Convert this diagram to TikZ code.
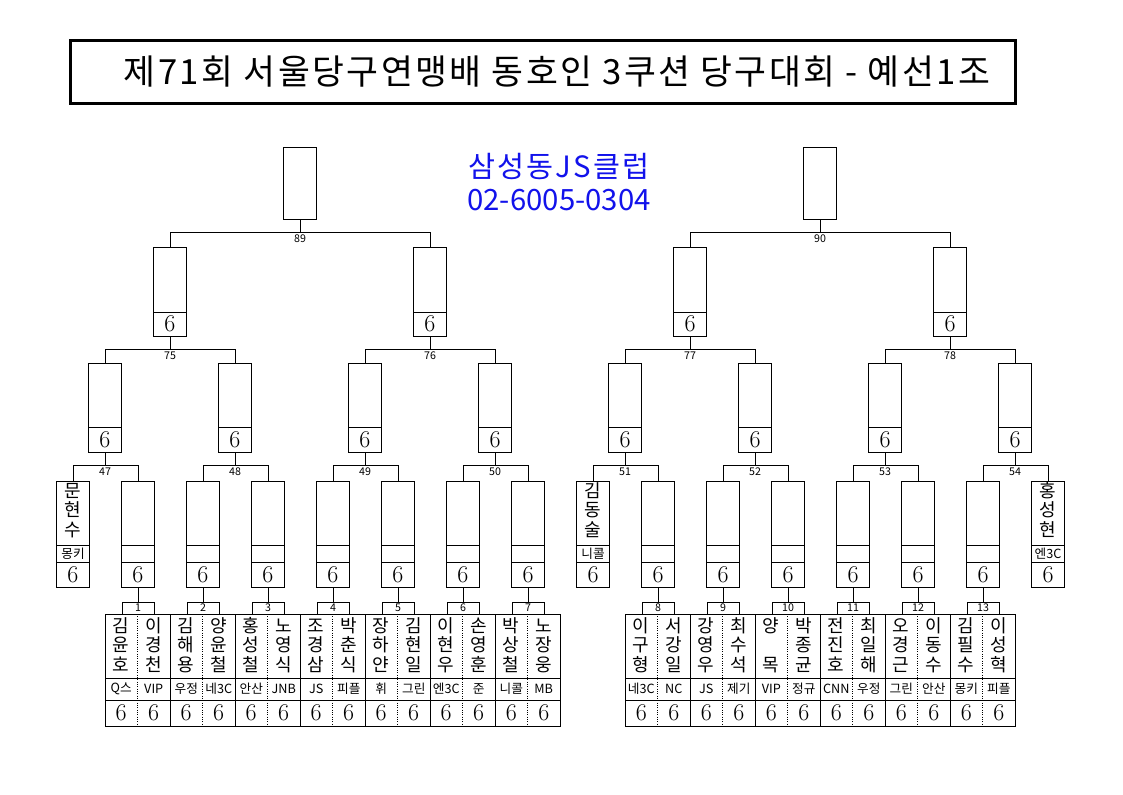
\documentclass[tikz,border=0pt]{standalone}
\usepackage{fontspec}
\setmainfont{Noto Sans CJK KR}
\newfontfamily\spacedfont[LetterSpace=7]{Noto Sans CJK KR}
\newfontfamily\thinfont{Latin Modern Roman}
\usetikzlibrary{positioning}
\definecolor{clubblue}{RGB}{18,18,235}
\newcommand{\pix}{0.75pt}
\newcommand{\namefont}{\fontsize{13.5}{14.6}\selectfont}
\newcommand{\clubfont}{\fontsize{9.5}{10}\selectfont}
\newcommand{\scorefont}{\thinfont\fontsize{18}{18}\selectfont}
\newcommand{\numfont}{\fontsize{8}{8}\selectfont}
\newcommand{\threechars}[3]{\smash{#1}\\\smash{#2}\\\smash{#3}}
\newcommand{\vname}[1]{{\namefont\begin{tabular}{@{}c@{}}\expandafter\threechars#1\end{tabular}}}
\tikzset{
box/.style={
    draw,
    rectangle,
    inner sep=0pt,
    outer sep=0pt,
    minimum width=33*\pix,
    anchor=north
},
pane/.style={
    box,
    minimum height=#1*\pix
},
mrow/.style={
    pane=#1,
    minimum width=65*\pix
},
tab/.style={
    pane=12,
    minimum width=32*\pix,
    font=\numfont
},
score/.style={
    font=\scorefont
},
club/.style={
    font=\clubfont
},
num/.style={
    font=\numfont,
    inner sep=2pt,
    anchor=north
},
dotline/.style={
    densely dotted
}}

\begin{document}
\begin{tikzpicture}[x=\pix, y=-\pix, line width=0.75pt]
\useasboundingbox (0,0) rectangle (1123,794);

\node[draw, line width=2.25pt, minimum width=945*\pix, minimum height=63*\pix, inner sep=0pt] (head) at (542.5,71.5) {};
\node[font=\spacedfont\fontsize{26}{26}\selectfont] (title) at (557,72) {제71회 서울당구연맹배 동호인 3쿠션 당구대회 - 예선1조};
\node[text=clubblue, align=center, font=\fontsize{22}{25}\selectfont] (club) at (559,182) {{\spacedfont 삼성동JS클럽}\\02-6005-0304};

\foreach \m/\x in {89/300, 90/820}
  \node[pane=72, alias=s\m] (w\m) at (\x,147) {};

\foreach \m/\x in {75/170, 76/430, 77/690, 78/950} {
  \node[pane=65] (w\m) at (\x,247) {};
  \node[pane=24, score, below=0pt of w\m] (s\m) {6};
}

\foreach \m/\x in {47/105, 48/235, 49/365, 50/495, 51/625, 52/755, 53/885, 54/1015} {
  \node[pane=64] (w\m) at (\x,363) {};
  \node[pane=25, score, below=0pt of w\m] (s\m) {6};
}

\foreach \m/\x in {1/138, 2/203, 3/268, 4/333, 5/398, 6/463, 7/528, 8/658, 9/723, 10/788, 11/853, 12/918, 13/983} {
  \node[pane=64] (w\m) at (\x,481) {};
  \node[pane=17, below=0pt of w\m] (c\m) {};
  \node[pane=25, score, below=0pt of c\m] (s\m) {6};
}

\foreach \m/\x/\nm/\cl in {mun/73/문현수/몽키, kim/593/김동술/니콜, hong/1048/홍성현/엔3C} {
  \node[pane=64] (w\m) at (\x,481) {\vname{\nm}};
  \node[pane=17, club, below=0pt of w\m] (c\m) {\cl};
  \node[pane=25, score, below=0pt of c\m] (s\m) {6};
}

\foreach \p/\l/\r/\y in {89/75/76/232, 90/77/78/232, 75/47/48/349, 76/49/50/349, 77/51/52/349, 78/53/54/349,
    47/mun/1/465, 48/2/3/465, 49/4/5/465, 50/6/7/465, 51/kim/8/465, 52/9/10/465, 53/11/12/465, 54/13/hong/465} {
  \coordinate (j\p) at (s\p.south |- 0,\y);
  \draw (w\l.north) |- (j\p) -| (w\r.north);
  \draw (s\p.south) -- (j\p);
  \node[num] (n\p) at (j\p) {\p};
}

\foreach \m/\x/\na/\ca/\nb/\cb in {1/138/김윤호/Q스/이경천/VIP, 2/203/김해용/우정/양윤철/네3C, 3/268/홍성철/안산/노영식/JNB,
    4/333/조경삼/JS/박춘식/피플, 5/398/장하얀/휘/김현일/그린, 6/463/이현우/엔3C/손영훈/준, 7/528/박상철/니콜/노장웅/MB,
    8/658/이구형/네3C/서강일/NC, 9/723/강영우/JS/최수석/제기, 10/788/양~목/VIP/박종균/정규,
    11/853/전진호/CNN/최일해/우정, 12/918/오경근/그린/이동수/안산, 13/983/김필수/몽키/이성혁/피플} {
  \node[tab] (t\m) at (\x,602) {\m};
  \draw (s\m.south) -- (t\m.north);
  \node[mrow=64] (m\m) at (\x-0.5,614) {};
  \node[mrow=22, below=0pt of m\m] (mc\m) {};
  \node[mrow=26, below=0pt of mc\m] (ms\m) {};
  \draw[dotline] (m\m.north) -- (ms\m.south);
  \node (pa\m) at ([xshift=-16.25*\pix, yshift=-2*\pix]m\m.center) {\vname{\na}};
  \node (pb\m) at ([xshift=16.25*\pix, yshift=-2*\pix]m\m.center) {\vname{\nb}};
  \node[club] (qa\m) at ([xshift=-16.25*\pix]mc\m.center) {\ca};
  \node[club] (qb\m) at ([xshift=16.25*\pix]mc\m.center) {\cb};
  \node[score] (ra\m) at ([xshift=-16.25*\pix]ms\m.center) {6};
  \node[score] (rb\m) at ([xshift=16.25*\pix]ms\m.center) {6};
}
\end{tikzpicture}
\end{document}
